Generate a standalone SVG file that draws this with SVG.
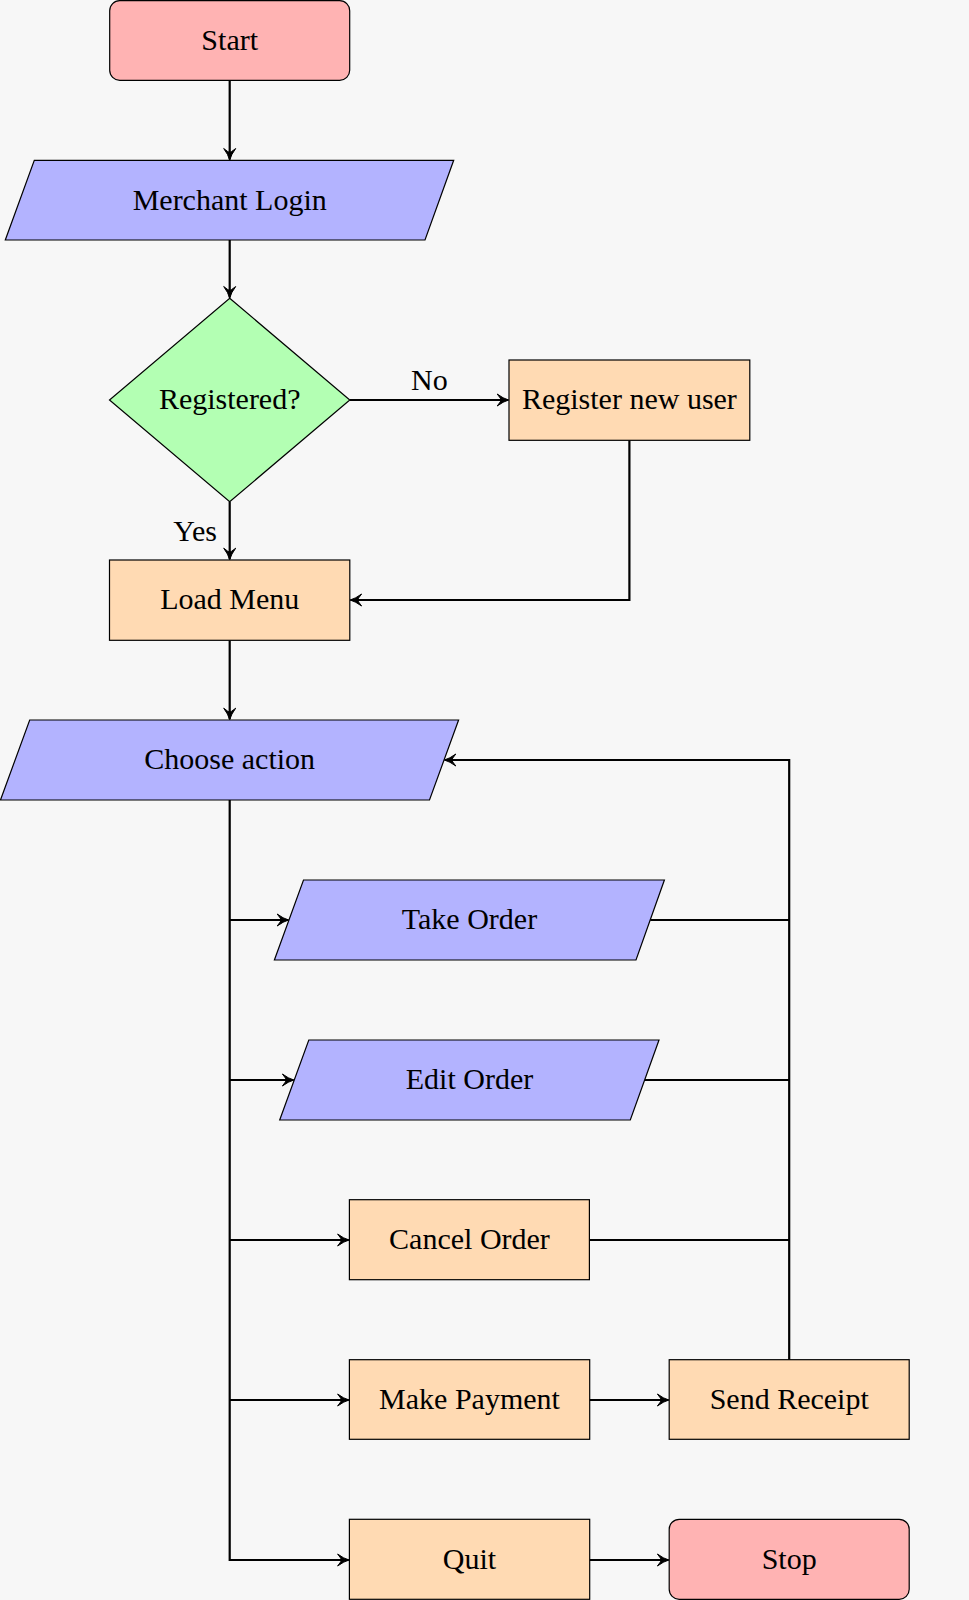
<svg xmlns="http://www.w3.org/2000/svg" width="969" height="1600" viewBox="0 0 969 1600">
<style>
.n{stroke:#000;stroke-width:1.2}
.term{fill:#FFB3B3}
.io{fill:#B3B3FF}
.proc{fill:#FFDAB3}
.dec{fill:#B3FFB3}
text{font-family:"Liberation Serif","DejaVu Serif",serif;font-size:30px;fill:#000;text-anchor:middle}
.c{fill:none;stroke:#000;stroke-width:2.2}
.a{marker-end:url(#arr)}
</style>
<defs>
<marker id="arr" viewBox="-14 -8 16 16" refX="0" refY="0" markerWidth="16" markerHeight="16" markerUnits="userSpaceOnUse" orient="auto">
<path d="M0.5,0 Q-5,-1.5 -11,-6 Q-7,-1 -7,0 Q-7,1 -11,6 Q-5,1.5 0.5,0 Z" fill="#000" stroke="#000" stroke-width="1" stroke-linejoin="round"/>
</marker>
</defs>
<rect x="0" y="0" width="969" height="1600" fill="#F7F7F7"/>
<g id="connectors">
<path class="c a" d="M229.7,80.3 V159.5"/>
<path class="c a" d="M229.7,240 V297.5"/>
<path class="c a" d="M349.8,400 H508.2"/>
<path class="c a" d="M229.7,501.7 V559.2"/>
<path class="c a" d="M629.4,440.3 V600 H350.6"/>
<path class="c a" d="M229.7,640.3 V719.2"/>
<path class="c a" d="M229.7,800 V1560 H348.6"/>
<path class="c a" d="M229.7,920 H288.2"/>
<path class="c a" d="M229.7,1080 H293.4"/>
<path class="c a" d="M229.7,1240 H348.6"/>
<path class="c a" d="M229.7,1400 H348.6"/>
<path class="c a" d="M589.7,1400 H668.4"/>
<path class="c a" d="M589.7,1560 H668.4"/>
<path class="c" d="M650.2,920 H789.2"/>
<path class="c" d="M644.7,1080 H789.2"/>
<path class="c" d="M589.3,1240 H789.2"/>
<path class="c a" d="M789.2,1359.7 V760 H444.8"/>
<text x="429.4" y="390">No</text>
<text x="217" y="541" style="text-anchor:end">Yes</text>
</g>
<g id="start"><rect class="n term" x="109.7" y="0.7" width="240" height="79.6" rx="10"/><text x="229.7" y="49.5">Start</text></g>
<g id="login"><polygon class="n io" points="34.3,160.3 453.7,160.3 425,240 5.3,240"/><text x="229.7" y="209.5">Merchant Login</text></g>
<g id="registered"><polygon class="n dec" points="229.7,298.3 349.8,400 229.7,501.7 109.5,400"/><text x="229.7" y="409">Registered?</text></g>
<g id="register"><rect class="n proc" x="509" y="360" width="240.8" height="80.3"/><text x="629.4" y="409">Register new user</text></g>
<g id="loadmenu"><rect class="n proc" x="109.5" y="560" width="240.3" height="80.3"/><text x="229.7" y="609">Load Menu</text></g>
<g id="choose"><polygon class="n io" points="29.7,720 458.6,720 429.5,800 0.5,800"/><text x="229.7" y="769">Choose action</text></g>
<g id="take"><polygon class="n io" points="303.5,880 664.4,880 636,960 274.4,960"/><text x="469.5" y="929">Take Order</text></g>
<g id="edit"><polygon class="n io" points="308.8,1040 659,1040 630.3,1120 279.7,1120"/><text x="469.5" y="1089">Edit Order</text></g>
<g id="cancel"><rect class="n proc" x="349.4" y="1199.7" width="240" height="80"/><text x="469.5" y="1249">Cancel Order</text></g>
<g id="payment"><rect class="n proc" x="349.4" y="1359.7" width="240.3" height="79.6"/><text x="469.5" y="1409">Make Payment</text></g>
<g id="receipt"><rect class="n proc" x="669.2" y="1359.7" width="240" height="79.6"/><text x="789.2" y="1409">Send Receipt</text></g>
<g id="quit"><rect class="n proc" x="349.4" y="1519.3" width="240.3" height="80"/><text x="469.5" y="1569">Quit</text></g>
<g id="stop"><rect class="n term" x="669.2" y="1519.3" width="240" height="80" rx="10"/><text x="789.2" y="1569">Stop</text></g>
</svg>
